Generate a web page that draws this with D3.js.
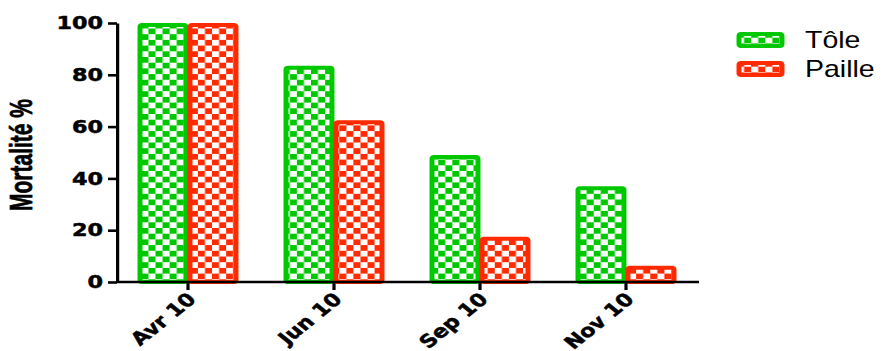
<!DOCTYPE html>
<html>
<head>
<meta charset="utf-8">
<script src="https://cdn.jsdelivr.net/npm/d3@7"></script>
<style>
  body { margin: 0; background: #fff; }
  svg { display: block; }
</style>
</head>
<body>
<script>
const months = ["Avr 10", "Jun 10", "Sep 10", "Nov 10"]
const series = ["Tôle", "Paille"]
const tole = [100, 83.5, 49, 37]
const paille = [100, 62.5, 17.5, 6.3]
const yTicks = [0, 20, 40, 60, 80, 100]

const colors = {"Tôle": "#00c800", "Paille": "#ff2a00"}

const rows = []
months.forEach((m, i) => {
  rows.push({month: m, series: "Tôle", value: tole[i]})
  rows.push({month: m, series: "Paille", value: paille[i]})
})

const width = 882
const height = 351
// the original picture is stretched horizontally
const SX = 1.24
const px = v => v / SX

const svg = d3.select("body").append("svg")
  .attr("width", width)
  .attr("height", height)

const cell = 5.7
const defs = svg.append("defs")
series.forEach((s, i) => {
  const p = defs.append("pattern")
    .attr("id", "check" + i)
    .attr("patternUnits", "userSpaceOnUse")
    .attr("width", cell * 2)
    .attr("height", cell * 2)
  p.append("rect").attr("width", cell * 2).attr("height", cell * 2).attr("fill", "#fff")
  p.append("rect").attr("width", cell).attr("height", cell).attr("fill", colors[s])
  p.append("rect").attr("x", cell).attr("y", cell).attr("width", cell).attr("height", cell).attr("fill", colors[s])
})

const g = svg.append("g").attr("transform", `scale(${SX},1)`)

const x = d3.scaleBand()
  .domain(months)
  .range([px(115), px(699)])
  .paddingInner(0.315)
  .paddingOuter(0.1575)

const xs = d3.scaleBand()
  .domain(series)
  .range([0, x.bandwidth()])

const y = d3.scaleLinear()
  .domain([0, 100])
  .range([282, 23])

const sw = 4
g.append("g")
  .selectAll("rect")
  .data(rows)
  .join("rect")
    .attr("x", d => x(d.month) + xs(d.series) + sw / 2 / SX)
    .attr("y", d => y(d.value) + sw / 2)
    .attr("width", xs.bandwidth() - sw / SX)
    .attr("height", d => y(0) - y(d.value) - sw / 2)
    .attr("rx", 1.5)
    .attr("fill", d => `url(#check${series.indexOf(d.series)})`)
    .attr("stroke", d => colors[d.series])
    .attr("stroke-width", sw)

const yAxis = g.append("g")
  .attr("transform", `translate(${px(117)},0)`)
  .call(d3.axisLeft(y).tickValues(yTicks).tickSize(px(9)).tickSizeOuter(0).tickPadding(px(5)))

const xAxis = g.append("g")
  .attr("transform", `translate(0,${y(0)})`)
  .call(d3.axisBottom(x).tickSize(8).tickSizeOuter(0))

xAxis.select(".domain").attr("d", `M${px(117)},0H${px(699)}`)

xAxis.selectAll("text")
  .attr("x", 0).attr("y", 0).attr("dy", "0.35em")
  .attr("text-anchor", "end")
  .attr("transform", "translate(3,14) rotate(-45)")

for (const ax of [xAxis, yAxis]) {
  ax.selectAll(".domain, line").attr("stroke", "#000").attr("stroke-width", 2.6)
  ax.selectAll("text")
    .attr("fill", "#000")
    .attr("stroke", "#000")
    .attr("stroke-width", 0.5)
    .attr("font-family", "'DejaVu Sans', sans-serif")
    .attr("font-weight", "bold")
    .attr("font-size", 18)
}

g.append("text")
  .attr("transform", `translate(${px(32)},${155}) rotate(-90)`)
  .attr("text-anchor", "middle")
  .attr("font-family", "'Liberation Sans Narrow', 'Arial Narrow', 'Liberation Sans', sans-serif")
  .attr("font-weight", "bold")
  .attr("font-size", 26)
  .attr("stroke", "#000")
  .attr("stroke-width", 0.6)
  .attr("textLength", 112)
  .attr("lengthAdjust", "spacingAndGlyphs")
  .text("Mortalité %")

const legend = g.append("g")
  .selectAll("g")
  .data(series)
  .join("g")
    .attr("transform", (d, i) => `translate(${px(737)},${32 + i * 29})`)

legend.append("rect")
  .attr("x", sw / 2 / SX)
  .attr("y", sw / 2)
  .attr("width", px(47) - sw / SX)
  .attr("height", 16 - sw)
  .attr("rx", 1.5)
  .attr("fill", (d, i) => `url(#check${i})`)
  .attr("stroke", d => colors[d])
  .attr("stroke-width", sw)

legend.append("text")
  .attr("x", px(805 - 737))
  .attr("y", 16)
  .attr("font-family", "'Liberation Sans', Arial, sans-serif")
  .attr("font-size", 23)
  .attr("fill", "#000")
  .text(d => d)
</script>
</body>
</html>
